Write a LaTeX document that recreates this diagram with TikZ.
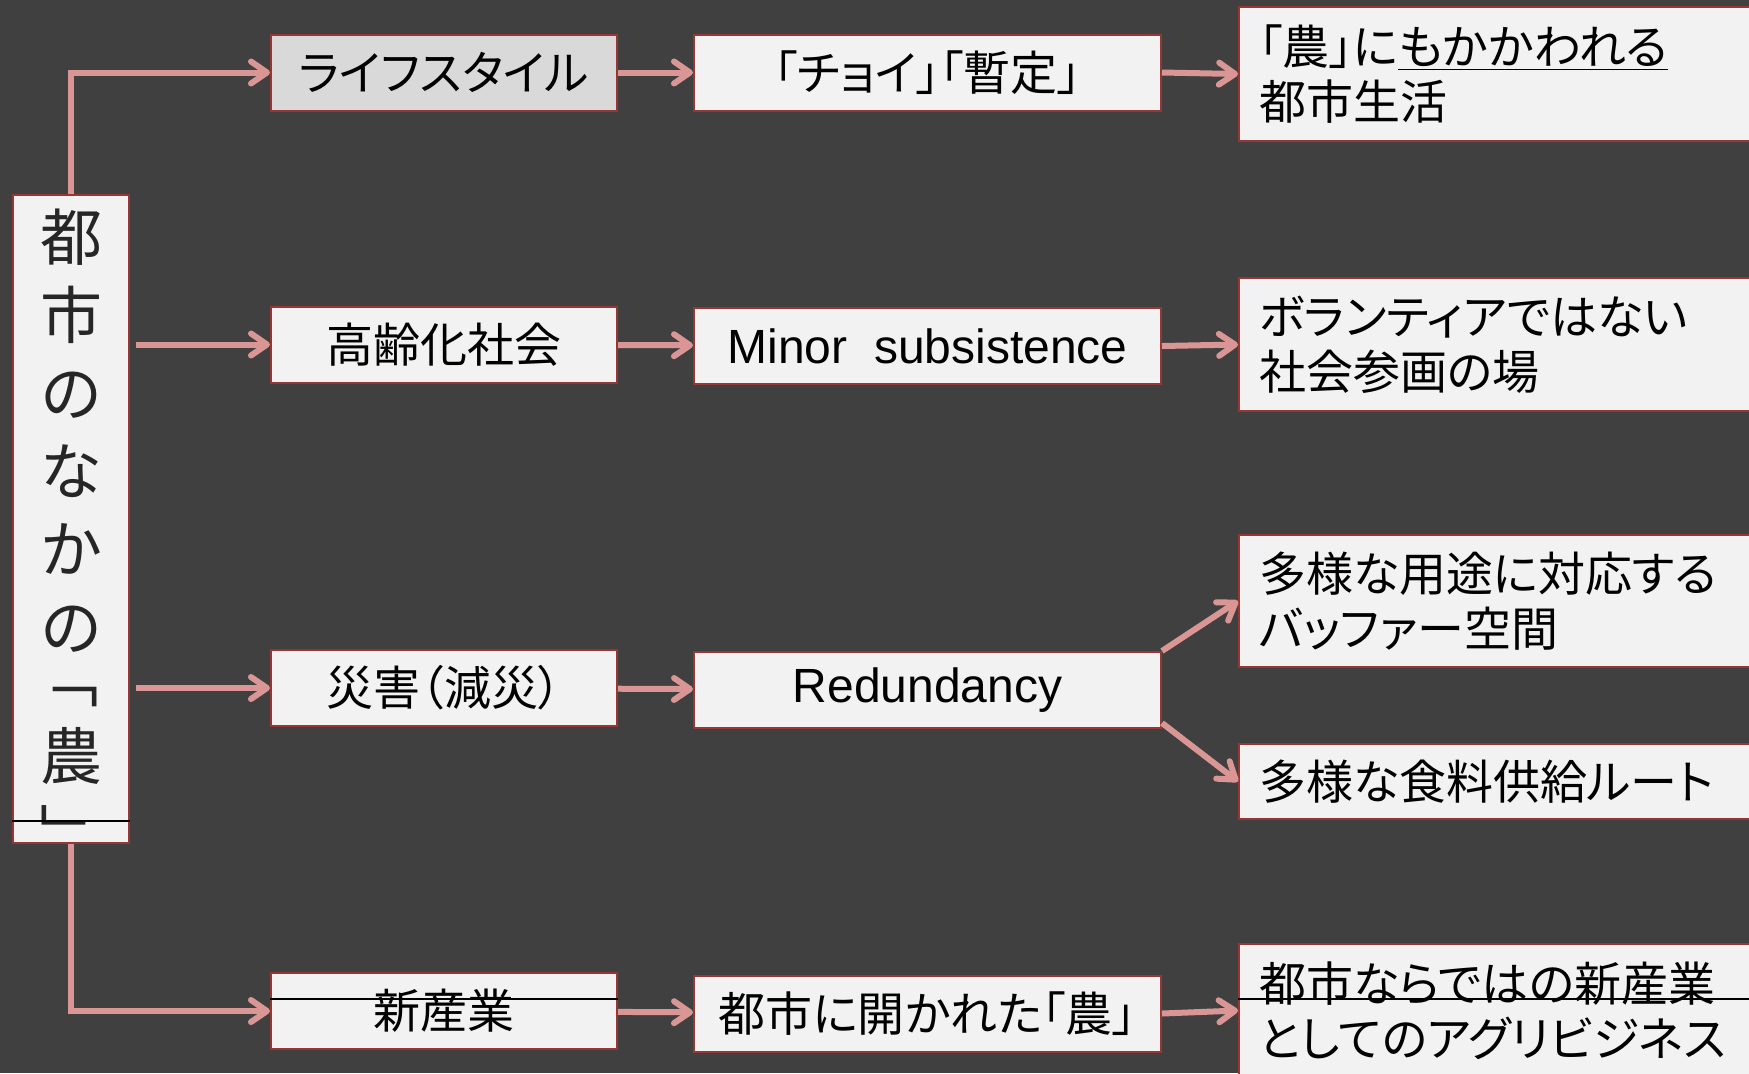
\documentclass[tikz,border=0pt]{standalone}
\usepackage{fontspec}
\setmainfont{Noto Sans CJK JP}[RawFeature=+palt]
\newfontfamily\latinfont{Liberation Sans}
\usetikzlibrary{arrows.meta}
\definecolor{bgdark}{HTML}{404040}
\definecolor{boxfill}{HTML}{F2F2F2}
\definecolor{boxgray}{HTML}{D9D9D9}
\definecolor{boxline}{HTML}{953735}
\definecolor{arrowpink}{HTML}{D99694}
\definecolor{textdark}{HTML}{262626}

\begin{document}
\begin{tikzpicture}[x=0.5pt, y=-0.5pt,
    box/.style={draw=boxline, line width=1pt, fill=boxfill, inner sep=0pt,
      font=\fontsize{23.5}{27.5}\selectfont},
    topic/.style={box, minimum width=173pt, minimum height=38pt},
    theme/.style={box, minimum width=233.5pt, minimum height=38pt},
    result/.style={box, anchor=west, text width=256pt, inner xsep=10pt, align=left},
    latin/.style={font=\latinfont\fontsize{24}{28}\selectfont},
    arr/.style={draw=arrowpink, line width=3pt, -{Straight Barb[length=8pt,width=11pt,round]}},
    cut/.style={draw=black, line width=0.6pt}]
    \useasboundingbox (0,0) rectangle (1749,1073);
    \fill[bgdark] (0,0) rectangle (1749,1073);
    \clip (0,0) rectangle (1749,1073);
    % left column
    \node[box, minimum width=58pt, minimum height=324pt] (city) at (71,519) {};
    \node[font=\fontsize{31}{39}\selectfont, text=textdark, align=center, inner sep=0pt]
      (citytext) at (71,533) {都\\市\\の\\な\\か\\の\\[-13.5pt]\hspace*{-4pt}﹁\\農\\﹂};
    % topics
    \node[topic, fill=boxgray] (life) at (444,72.5) {ライフスタイル};
    \node[topic] (aging) at (444,344.5) {高齢化社会};
    \node[topic] (disaster) at (444,688) {災害（減災）};
    \node[topic] (industry) at (444,1011) {新産業};
    % themes
    \node[theme] (choi) at (927.5,72.5) {「チョイ」「暫定」};
    \node[theme, latin] (minor) at (927.5,346) {Minor\ \ subsistence};
    \node[theme, latin] (redund) at (927.5,690) {Redundancy};
    \node[theme] (open) at (927.5,1013.5) {都市に開かれた「農」};
    % results
    \node[result, minimum height=67pt] (farmlife) at (1238,74) {「農」に\underline{もかかわれる}\\都市生活};
    \node[result, minimum height=66.5pt] (partake) at (1238,344.5) {ボランティアではない\\社会参画の場};
    \node[result, minimum height=66pt] (buffer) at (1238,601) {多様な用途に対応する\\バッファー空間};
    \node[result, minimum height=37.5pt] (route) at (1238,781.5) {多様な食料供給ルート};
    \node[result, minimum height=66.5pt] (agri) at (1238,1010.5) {都市ならではの新産業\\としてのアグリビジネス};
    % connectors
    \draw[arr] (city.north) |- (life.west);
    \draw[arr, shorten <=3pt] (city.east |- aging.west) -- (aging.west);
    \draw[arr, shorten <=3pt] (city.east |- disaster.west) -- (disaster.west);
    \draw[arr] (city.south) |- (industry.west);
    \draw[arr] (life) -- (choi);
    \draw[arr] (aging) -- (minor);
    \draw[arr] (disaster) -- (redund);
    \draw[arr] (industry) -- (open);
    \draw[arr] (choi.east) -- (farmlife.west);
    \draw[arr] (minor.east) -- (partake.west);
    \draw[arr] (redund.north east) -- (buffer.west);
    \draw[arr] ([yshift=3pt]redund.south east) -- (route.west);
    \draw[arr] (open.east) -- (agri.west);
    % thin lines
    \draw[cut] ([yshift=11.5pt]city.south west) -- ([yshift=11.5pt]city.south east);
    \draw[cut] ([yshift=-13.5pt]industry.north west) -- ([yshift=-13.5pt]industry.north east);
    \draw[cut] ([yshift=-28pt]agri.north west) -- ([yshift=-28pt]agri.north east);
\end{tikzpicture}
\end{document}
